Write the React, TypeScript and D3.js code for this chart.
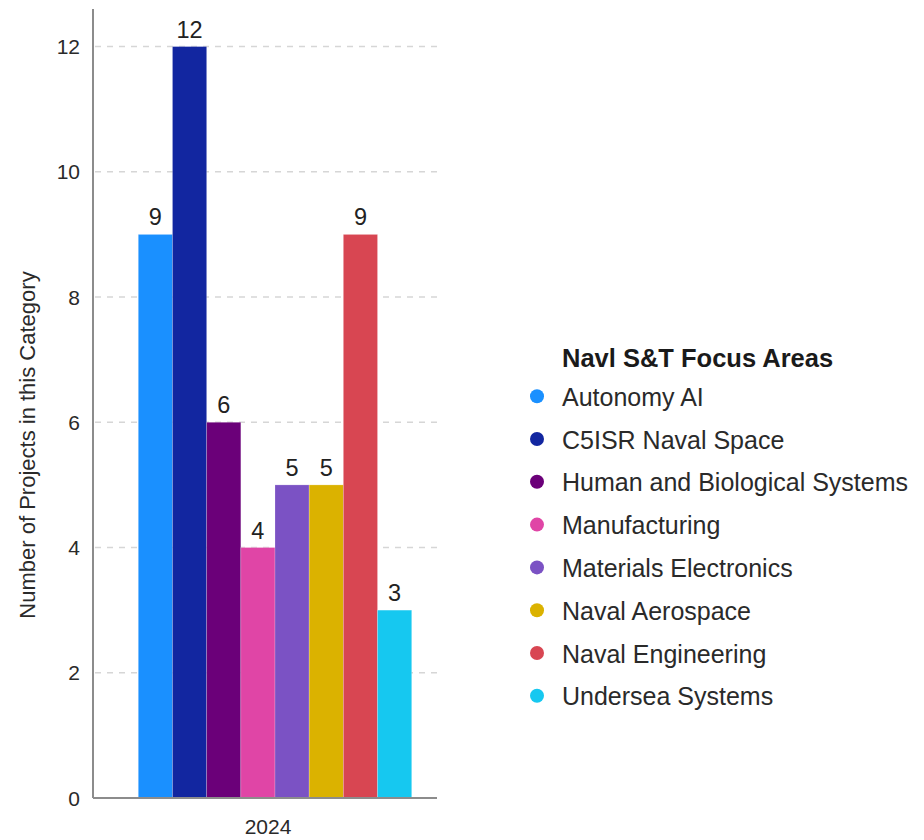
import React from "react";
import * as d3 from "d3";

const categories = ["2024"];
const seriesNames = [
  "Autonomy AI",
  "C5ISR Naval Space",
  "Human and Biological Systems",
  "Manufacturing",
  "Materials Electronics",
  "Naval Aerospace",
  "Naval Engineering",
  "Undersea Systems",
];
const seriesValues = [9, 12, 6, 4, 5, 5, 9, 3];
const seriesColors = [
  "#1a90ff",
  "#1226a0",
  "#6b0079",
  "#e045a6",
  "#7b52c4",
  "#dbb200",
  "#d84652",
  "#16c8f0",
];
const yTicks = [0, 2, 4, 6, 8, 10, 12];
const legendTitle = "Navl S&T Focus Areas";
const yAxisTitle = "Number of Projects in this Category";

const FONT = "'Liberation Sans', Arial, Helvetica, sans-serif";

export default function App() {
  const W = 924;
  const H = 840;
  const axisX = 93;
  const plotRight = 437;
  const plotTop = 9;
  const plotBottom = 798;

  const y = d3.scaleLinear().domain([0, 12.6]).range([plotBottom, plotTop]);
  const xGroup = d3.scaleBand().domain(categories).range([axisX, plotRight]).padding(0);
  const x = d3.scaleBand().domain(seriesNames).range([138.3, 411.7]).padding(0);

  const legendX = 537;
  const legendTitleY = 367;
  const legendFirstY = 405.7;
  const legendStep = 42.8;

  return (
    <svg
      width={W}
      height={H}
      style={{ position: "absolute", left: 0, top: 0, background: "#fff" }}
      fontFamily={FONT}
    >
      {/* gridlines */}
      {yTicks
        .filter((t) => t > 0)
        .map((t) => (
          <line
            key={"g" + t}
            x1={axisX + 2}
            x2={plotRight}
            y1={y(t)}
            y2={y(t)}
            stroke="#d6d6d6"
            strokeWidth={1.5}
            strokeDasharray="6,6"
          />
        ))}
      {/* bars */}
      {seriesNames.map((s, i) => (
        <rect
          key={s}
          x={x(s)!}
          y={y(seriesValues[i])}
          width={x.bandwidth()}
          height={y(0) - y(seriesValues[i])}
          fill={seriesColors[i]}
          stroke="rgba(255,255,255,0.25)"
          strokeWidth={0.8}
        />
      ))}
      {/* value labels */}
      {seriesNames.map((s, i) => (
        <text
          key={"v" + s}
          x={x(s)! + x.bandwidth() / 2}
          y={y(seriesValues[i]) - 9}
          textAnchor="middle"
          fontSize={23.5}
          fill="#222"
        >
          {seriesValues[i]}
        </text>
      ))}
      {/* axes */}
      <line x1={axisX} x2={axisX} y1={plotTop} y2={plotBottom} stroke="#8c8c8c" strokeWidth={2} />
      <line x1={axisX} x2={plotRight} y1={plotBottom} y2={plotBottom} stroke="#8c8c8c" strokeWidth={2} />
      {yTicks.map((t) => (
        <text key={"t" + t} x={80} y={y(t) + 7.5} textAnchor="end" fontSize={21} fill="#2a2a2a">
          {t}
        </text>
      ))}
      {categories.map((c) => (
        <text
          key={c}
          x={xGroup(c)! + xGroup.bandwidth() / 2 + 3}
          y={834}
          textAnchor="middle"
          fontSize={21}
          fill="#2a2a2a"
        >
          {c}
        </text>
      ))}
      <text
        transform={`translate(35,445) rotate(-90)`}
        textAnchor="middle"
        fontSize={22}
        fill="#2a2a2a"
      >
        {yAxisTitle}
      </text>
      {/* legend */}
      <text x={562} y={legendTitleY} fontSize={25.5} fontWeight="bold" fill="#1a1a1a">
        {legendTitle}
      </text>
      {seriesNames.map((s, i) => (
        <g key={"l" + s}>
          <circle cx={legendX} cy={legendFirstY + i * legendStep - 9.5} r={7} fill={seriesColors[i]} />
          <text x={562} y={legendFirstY + i * legendStep} fontSize={25} fill="#2a2a2a">
            {s}
          </text>
        </g>
      ))}
    </svg>
  );
}
